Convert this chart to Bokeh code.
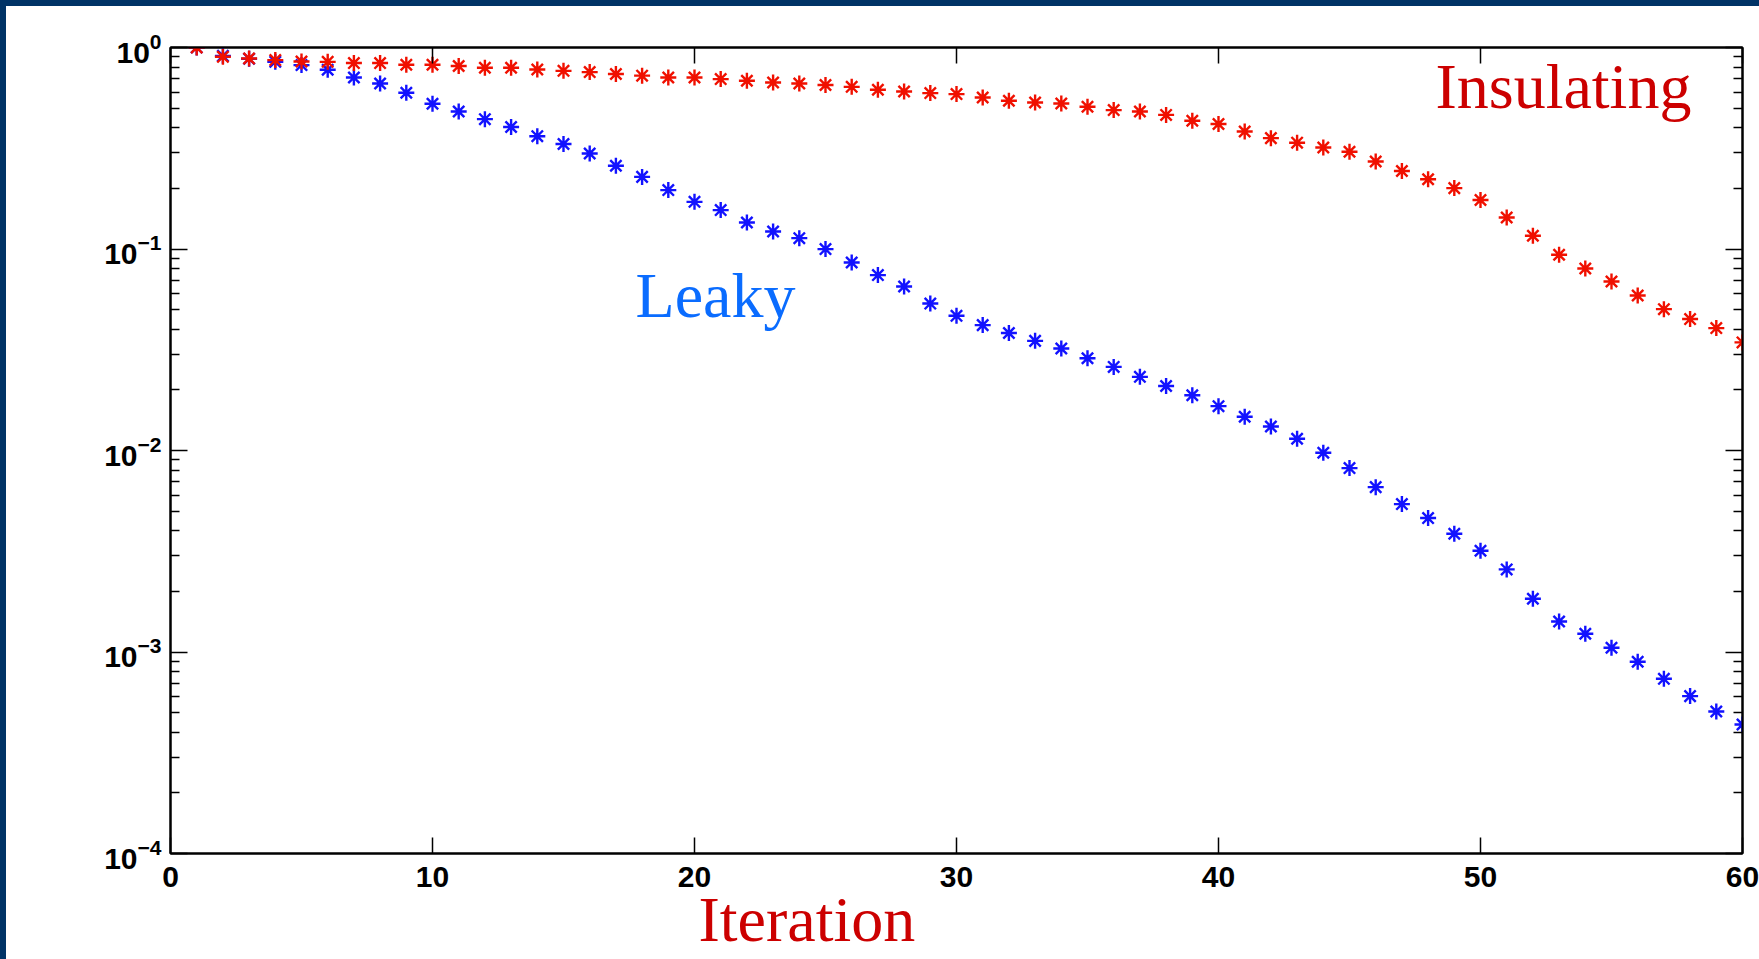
from bokeh.plotting import figure
from bokeh.models import (Range1d, LinearAxis, LogAxis, Label, FixedTicker,
                          CustomJSTickFormatter, LogTickFormatter)
from bokeh.embed import file_html
from bokeh.resources import INLINE

# ---------------- data ----------------
iterations = list(range(1, 61))

insulating = [1.0, 0.899, 0.882, 0.866, 0.852, 0.849, 0.837, 0.837, 0.821, 0.821,
              0.809, 0.793, 0.793, 0.778, 0.766, 0.755, 0.739, 0.725, 0.710, 0.710,
              0.697, 0.684, 0.670, 0.663, 0.651, 0.638, 0.617, 0.605, 0.594, 0.587,
              0.565, 0.544, 0.533, 0.527, 0.508, 0.489, 0.481, 0.463, 0.433, 0.417,
              0.383, 0.355, 0.337, 0.319, 0.304, 0.272, 0.244, 0.222, 0.2005, 0.175,
              0.1433, 0.1163, 0.0936, 0.080, 0.069, 0.0588, 0.0503, 0.0449, 0.0405, 0.0344]

leaky = [1.0, 0.909, 0.88, 0.849, 0.818, 0.775, 0.710, 0.663, 0.596, 0.526,
         0.481, 0.441, 0.403, 0.363, 0.332, 0.298, 0.259, 0.228, 0.196, 0.1714,
         0.156, 0.1353, 0.1221, 0.1132, 0.0999, 0.0857, 0.0742, 0.0651, 0.0536, 0.0466,
         0.0419, 0.0383, 0.035, 0.0321, 0.0287, 0.026, 0.0232, 0.0209, 0.0188, 0.0166,
         0.0147, 0.01315, 0.01143, 0.00974, 0.00818, 0.00658, 0.00542, 0.00462, 0.00386, 0.00318,
         0.00257, 0.001837, 0.001417, 0.001231, 0.00105, 0.000894, 0.000736, 0.000604, 0.000507, 0.000437]

x_ticks = [0, 10, 20, 30, 40, 50, 60]
y_ticks = [1e-4, 1e-3, 1e-2, 1e-1, 1.0]
y_minor = [d * k for d in y_ticks[:-1] for k in range(2, 10)]

label_insulating = "Insulating"
label_leaky = "Leaky"
label_x = "Iteration"

# ---------------- figure ----------------
p = figure(width=1753, height=953,
           x_range=Range1d(0, 60), y_range=Range1d(1e-4, 1.0),
           y_axis_type="log",
           output_backend="svg", toolbar_location=None,
           min_border_left=164, min_border_right=17,
           min_border_top=41, min_border_bottom=106,
           background_fill_color="white", border_fill_color="white",
           outline_line_color="black", outline_line_width=2)
p.margin = (6, 0, 0, 6)
p.styles = {"box-shadow": "0 0 0 6px #003366"}
p.grid.visible = False

tick_font = "Liberation Sans"
serif = "Liberation Serif"

# bottom axis
xa = p.xaxis[0]
xa.ticker = FixedTicker(ticks=x_ticks)
xa.major_tick_in = 16
xa.major_tick_out = 0
xa.minor_tick_in = 0
xa.minor_tick_out = 0
xa.axis_line_width = 2
xa.major_tick_line_width = 1.5
xa.major_label_standoff = 13
xa.major_label_text_font = tick_font
xa.major_label_text_font_style = "bold"
xa.major_label_text_font_size = "30px"
xa.major_label_text_color = "black"

# x title drawn as a second bottom axis carrying a single label
title_axis = LinearAxis(ticker=FixedTicker(ticks=[24.29]),
                        formatter=CustomJSTickFormatter(code="return '%s'" % label_x),
                        axis_line_color=None, major_tick_line_color=None,
                        minor_tick_line_color=None,
                        major_tick_in=0, major_tick_out=0,
                        minor_tick_in=0, minor_tick_out=0,
                        major_label_standoff=-6,
                        major_label_text_font=serif,
                        major_label_text_font_style="normal",
                        major_label_text_font_size="64px",
                        major_label_text_color="#cc0000")
p.add_layout(title_axis, "below")

# left axis
ya = p.yaxis[0]
ya.ticker = FixedTicker(ticks=y_ticks, minor_ticks=y_minor)
ya.formatter = LogTickFormatter()
ya.major_tick_in = 17
ya.major_tick_out = 0
ya.minor_tick_in = 9
ya.minor_tick_out = 0
ya.axis_line_width = 2
ya.major_tick_line_width = 1.5
ya.minor_tick_line_width = 1.5
ya.major_label_standoff = 9
ya.major_label_text_font = tick_font
ya.major_label_text_font_style = "bold"
ya.major_label_text_font_size = "30px"
ya.major_label_text_color = "black"

blank = CustomJSTickFormatter(code="return ''")

top = LinearAxis(ticker=FixedTicker(ticks=x_ticks), formatter=blank,
                 major_tick_in=16, major_tick_out=0, minor_tick_in=0, minor_tick_out=0,
                 axis_line_width=2, major_tick_line_width=1.5, major_label_standoff=0)
p.add_layout(top, "above")

right = LogAxis(ticker=FixedTicker(ticks=y_ticks, minor_ticks=y_minor), formatter=blank,
                major_tick_in=17, major_tick_out=0, minor_tick_in=9, minor_tick_out=0,
                axis_line_width=2, major_tick_line_width=1.5, minor_tick_line_width=1.5,
                major_label_standoff=0)
p.add_layout(right, "right")

# data
p.scatter(iterations, leaky, marker="asterisk", size=16,
          line_color="#1212ff", line_width=2.4)
p.scatter(iterations, insulating, marker="asterisk", size=16,
          line_color="#f01000", line_width=2.4)

# in-plot labels
p.add_layout(Label(x=48.28, y=0.485, y_offset=24, text=label_insulating, text_font=serif,
                   text_font_size="64px", text_color="#cc0000",
                   text_align="left", text_baseline="alphabetic"))
p.add_layout(Label(x=17.75, y=0.04487, y_offset=24, text=label_leaky, text_font=serif,
                   text_font_size="64px", text_color="#0a6cff",
                   text_align="left", text_baseline="alphabetic"))

open("out.html", "w").write(file_html(p, INLINE))
